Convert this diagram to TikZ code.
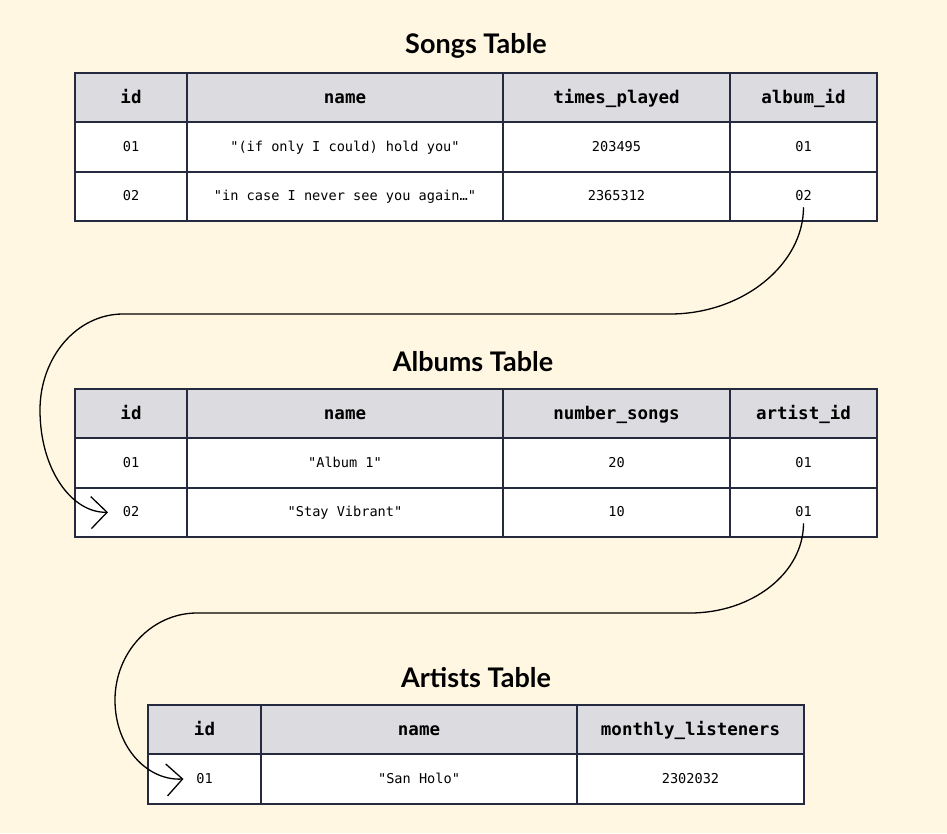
\documentclass[tikz,border=0pt]{standalone}
\usepackage{fontspec}
\setmainfont{Lato}
\setmonofont{DejaVu Sans Mono}
\usepackage{tikz}
\usetikzlibrary{positioning, arrows.meta}
\definecolor{paperColor}{HTML}{FFF7E2}
\definecolor{headColor}{HTML}{DCDBE0}
\definecolor{lineColor}{HTML}{262A3E}

\begin{document}
\begin{tikzpicture}[
  x=1pt, y=-1pt,
  cell/.style={
    rectangle,
    draw=lineColor,
    line width=1.8pt,
    outer sep=0pt,
    inner sep=0pt,
    minimum height=49.3pt,
    align=center
  },
  head/.style={
    cell,
    fill=headColor,
    text height=12pt,
    text depth=1pt,
    font=\ttfamily\bfseries\fontsize{17.5}{20}\selectfont
  },
  body/.style={
    cell,
    fill=white,
    text height=9pt,
    text depth=0pt,
    font=\ttfamily\fontsize{13.6}{16}\selectfont
  },
  title/.style={
    font=\bfseries\fontsize{27}{31}\selectfont,
    text=black
  },
  link/.style={
    -{Straight Barb[length=16pt, width=32pt]},
    line width=1.3pt,
    draw=black
  }
]
  % background and size
  \fill[paperColor] (0,0) rectangle (947,833);
  \useasboundingbox (0,0) rectangle (947,833);

  % Songs table
  \node[title] (songsT) at (476,46) {Songs Table};
  \node[head, minimum width=112pt, anchor=north west] (s-id) at (75,73) {id};
  \node[head, minimum width=316pt, right=0pt of s-id] (s-name) {name};
  \node[head, minimum width=227pt, right=0pt of s-name] (s-times) {times\_played};
  \node[head, minimum width=147pt, right=0pt of s-times] (s-album) {album\_id};
  \node[body, minimum width=112pt, below=0pt of s-id] (s1-id) {01};
  \node[body, minimum width=316pt, below=0pt of s-name] (s1-name) {"(if only I could) hold you"};
  \node[body, minimum width=227pt, below=0pt of s-times] (s1-times) {203495};
  \node[body, minimum width=147pt, below=0pt of s-album] (s1-album) {01};
  \node[body, minimum width=112pt, below=0pt of s1-id] (s2-id) {02};
  \node[body, minimum width=316pt, below=0pt of s1-name] (s2-name) {"in case I never see you again…"};
  \node[body, minimum width=227pt, below=0pt of s1-times] (s2-times) {2365312};
  \node[body, minimum width=147pt, below=0pt of s1-album] (s2-album) {02};

  % Albums table
  \node[title] (albumsT) at (473,362) {Albums Table};
  \node[head, minimum width=112pt, anchor=north west] (a-id) at (75,389) {id};
  \node[head, minimum width=316pt, right=0pt of a-id] (a-name) {name};
  \node[head, minimum width=227pt, right=0pt of a-name] (a-num) {number\_songs};
  \node[head, minimum width=147pt, right=0pt of a-num] (a-artist) {artist\_id};
  \node[body, minimum width=112pt, below=0pt of a-id] (a1-id) {01};
  \node[body, minimum width=316pt, below=0pt of a-name] (a1-name) {"Album 1"};
  \node[body, minimum width=227pt, below=0pt of a-num] (a1-num) {20};
  \node[body, minimum width=147pt, below=0pt of a-artist] (a1-artist) {01};
  \node[body, minimum width=112pt, below=0pt of a1-id] (a2-id) {02};
  \node[body, minimum width=316pt, below=0pt of a1-name] (a2-name) {"Stay Vibrant"};
  \node[body, minimum width=227pt, below=0pt of a1-num] (a2-num) {10};
  \node[body, minimum width=147pt, below=0pt of a1-artist] (a2-artist) {01};

  % Artists table
  \node[title] (artistsT) at (476,678) {Artists Table};
  \node[head, minimum width=113pt, anchor=north west] (r-id) at (148,705) {id};
  \node[head, minimum width=316pt, right=0pt of r-id] (r-name) {name};
  \node[head, minimum width=227pt, right=0pt of r-name] (r-listen) {monthly\_listeners};
  \node[body, minimum width=113pt, below=0pt of r-id] (r1-id) {01};
  \node[body, minimum width=316pt, below=0pt of r-name] (r1-name) {"San Holo"};
  \node[body, minimum width=227pt, below=0pt of r-listen] (r1-listen) {2302032};

  % foreign keys
  \draw[link] ([yshift=-11pt]s2-album.center)
    .. controls +(0,57) and (743,314) .. (670,314) -- (123,314)
    .. controls (77,314) and (40,357) .. (40,410)
    .. controls (40,470) and (72,513) .. ([xshift=-23pt]a2-id.center);
  \draw[link] ([yshift=-11pt]a2-artist.center)
    .. controls +(0,50) and (752,613) .. (690,613) -- (197,613)
    .. controls (152,613) and (115,652) .. (115,700)
    .. controls (115,748) and (148,781) .. ([xshift=-21pt]r1-id.center);
\end{tikzpicture}
\end{document}
